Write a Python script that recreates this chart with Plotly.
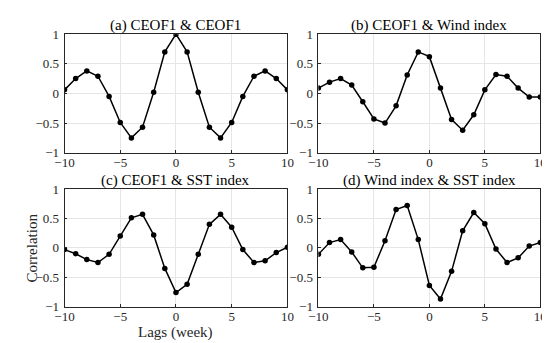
import plotly.graph_objects as go

lags = list(range(-10, 11))
ceof1_ceof1 = [0.06, 0.25, 0.38, 0.29, -0.05, -0.49, -0.75, -0.57, 0.02, 0.70, 1.00,
               0.70, 0.02, -0.57, -0.75, -0.49, -0.05, 0.29, 0.38, 0.25, 0.06]
ceof1_wind = [0.09, 0.19, 0.25, 0.14, -0.14, -0.43, -0.50, -0.21, 0.31, 0.70, 0.62,
              0.09, -0.44, -0.62, -0.36, 0.06, 0.32, 0.29, 0.09, -0.06, -0.06]
ceof1_sst = [-0.03, -0.10, -0.20, -0.25, -0.11, 0.20, 0.51, 0.57, 0.22, -0.35, -0.76,
             -0.62, -0.11, 0.40, 0.57, 0.35, -0.03, -0.25, -0.22, -0.08, 0.01]
wind_sst = [-0.11, 0.09, 0.14, -0.07, -0.34, -0.33, 0.12, 0.65, 0.72, 0.14, -0.64,
            -0.87, -0.40, 0.29, 0.60, 0.41, -0.02, -0.25, -0.17, 0.03, 0.09]
titles = ["(a) CEOF1 & CEOF1", "(b) CEOF1 & Wind index",
          "(c) CEOF1 & SST index", "(d) Wind index & SST index"]
series = [ceof1_ceof1, ceof1_wind, ceof1_sst, wind_sst]
x_ticks = [-10, -5, 0, 5, 10]
y_ticks = [-1, -0.5, 0, 0.5, 1]
y_tick_text = ["\u22121", "\u22120.5", "0", "0.5", "1"]
x_tick_text = ["\u221210", "\u22125", "0", "5", "10"]

W, H = 550, 343
FONT = "Liberation Serif, Times New Roman, serif"
xdoms = [(48 / W, 278 / W), (310 / W, 539 / W)]
ydoms = [((H - 144) / H, (H - 20) / H), ((H - 305) / H, (H - 182) / H)]

fig = go.Figure()
annotations = []
for i, (vals, title) in enumerate(zip(series, titles)):
    r, c = divmod(i, 2)
    n = i + 1
    xa = "x" if n == 1 else f"x{n}"
    ya = "y" if n == 1 else f"y{n}"
    fig.add_trace(go.Scatter(
        x=lags, y=vals, mode="lines+markers", xaxis=xa, yaxis=ya,
        line=dict(color="black", width=1.5),
        marker=dict(color="black", size=5.5, symbol="circle"),
        showlegend=False))
    axis_common = dict(showline=True, linecolor="#262626", linewidth=0.8, mirror=True,
                       ticks="inside", ticklen=3, tickcolor="#262626",
                       showgrid=True, gridcolor="#e6e6e6", gridwidth=0.8,
                       zeroline=False, tickfont=dict(family=FONT, size=13, color="#262626"))
    fig.layout[f"xaxis{n if n > 1 else ''}"] = dict(
        domain=xdoms[c], anchor=ya, range=[-10, 10], tickvals=x_ticks,
        ticktext=x_tick_text, ticklabelstandoff=-2, **axis_common)
    fig.layout[f"yaxis{n if n > 1 else ''}"] = dict(
        domain=ydoms[r], anchor=xa, range=[-1, 1], tickvals=y_ticks,
        ticktext=y_tick_text, ticklabelstandoff=2, **axis_common)
    annotations.append(dict(
        text=title, xref="paper", yref="paper",
        x=(xdoms[c][0] + xdoms[c][1]) / 2, y=ydoms[r][1],
        xanchor="center", yanchor="bottom", showarrow=False, yshift=-2,
        font=dict(family=FONT, size=15, color="black")))

annotations.append(dict(text="Lags (week)", xref="paper", yref="paper",
                        x=(xdoms[0][0] + xdoms[0][1]) / 2, y=(H - 332) / H,
                        xanchor="center", yanchor="middle", showarrow=False,
                        font=dict(family=FONT, size=15, color="#262626")))
annotations.append(dict(text="Correlation", xref="paper", yref="paper",
                        x=14 / W, y=(ydoms[1][0] + ydoms[1][1]) / 2, textangle=-90,
                        xanchor="center", yanchor="middle", showarrow=False,
                        font=dict(family=FONT, size=15, color="#262626")))

fig.update_layout(width=W, height=H, margin=dict(l=0, r=0, t=0, b=0),
                  paper_bgcolor="white", plot_bgcolor="white",
                  annotations=annotations)
fig.write_html("out.html")
